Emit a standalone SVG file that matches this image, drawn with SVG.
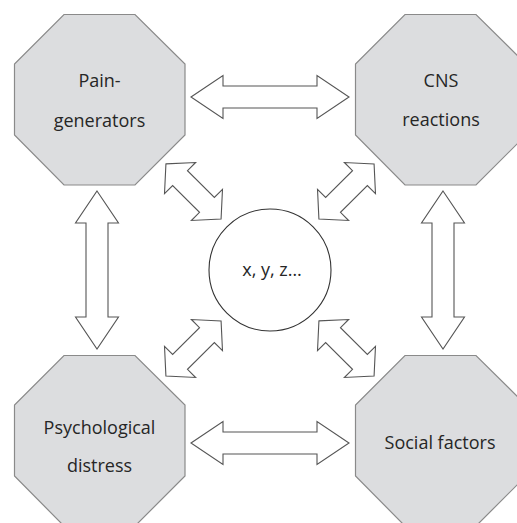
<svg xmlns="http://www.w3.org/2000/svg" width="517" height="523" viewBox="0 0 517 523">
<defs>
<style>
.oct{fill:#dcdddf;stroke:#8a8a8a;stroke-width:1.2}
.arr{fill:#ffffff;stroke:#555555;stroke-width:1.1;stroke-linejoin:miter}
.lbl{font-family:"Open Sans","Liberation Sans",sans-serif;font-size:18px;fill:#262626;text-anchor:middle}
</style>
<path id="hv" d="M-79,0 L-47,-21.5 L-47,-11 L47,-11 L47,-21.5 L79,0 L47,21.5 L47,11 L-47,11 L-47,21.5 Z"/>
<path id="dg" d="M-39,0 L-19,-22 L-19,-10.5 L19,-10.5 L19,-22 L39,0 L19,22 L19,10.5 L-19,10.5 L-19,22 Z"/>
</defs>
<rect width="517" height="523" fill="#ffffff"/>
<g id="connectors">
<use href="#hv" class="arr" transform="translate(270,97)"/>
<use href="#hv" class="arr" transform="translate(270,443)"/>
<use href="#hv" class="arr" transform="translate(97,270) rotate(90)"/>
<use href="#hv" class="arr" transform="translate(443,270) rotate(90)"/>
<use href="#dg" class="arr" transform="translate(193.5,191.5) rotate(45)"/>
<use href="#dg" class="arr" transform="translate(346.5,191.5) rotate(-45)"/>
<use href="#dg" class="arr" transform="translate(193.5,348.5) rotate(-45)"/>
<use href="#dg" class="arr" transform="translate(346.5,348.5) rotate(45)"/>
</g>
<g id="pain-generators">
<polygon class="oct" points="64,14.5 135,14.5 185,64 185,135 135,185 64,185 14.5,135 14.5,64"/>
<text class="lbl" x="99.5" y="87">Pain-</text>
<text class="lbl" x="99.5" y="127">generators</text>
</g>
<g id="cns-reactions">
<polygon class="oct" points="405,14.5 476,14.5 526,64 526,135 476,185 405,185 355.5,135 355.5,64"/>
<text class="lbl" x="441" y="87">CNS</text>
<text class="lbl" x="441" y="126">reactions</text>
</g>
<g id="psychological-distress">
<polygon class="oct" points="64,355.5 135,355.5 185,405 185,476 135,526 64,526 14.5,476 14.5,405"/>
<text class="lbl" x="99.5" y="434">Psychological</text>
<text class="lbl" x="99.5" y="472">distress</text>
</g>
<g id="social-factors">
<polygon class="oct" points="405,355.5 476,355.5 526,405 526,476 476,526 405,526 355.5,476 355.5,405"/>
<text class="lbl" x="440" y="449">Social factors</text>
</g>
<g id="xyz">
<circle cx="270" cy="270" r="61" fill="#ffffff" stroke="#333333" stroke-width="1.1"/>
<text class="lbl" x="272" y="276">x, y, z…</text>
</g>
</svg>
